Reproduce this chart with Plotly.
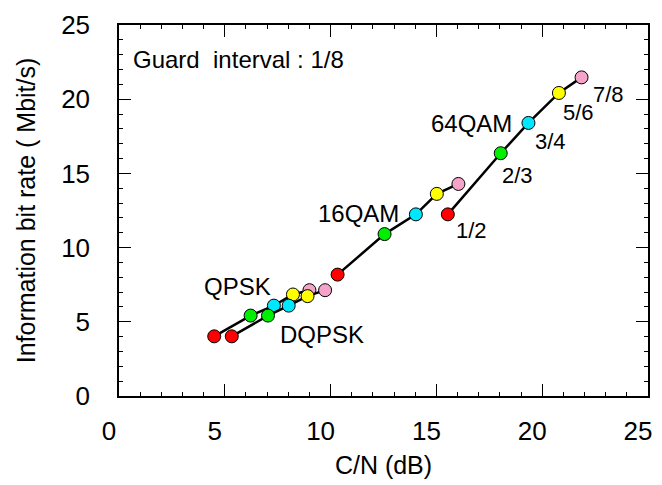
import plotly.graph_objects as go

# ---- data ----
code_rates = ["1/2", "2/3", "3/4", "5/6", "7/8"]
rate_colors = ["#ff0000", "#00ee00", "#00e8ff", "#ffff00", "#f5a3c8"]

qpsk_cn = [4.50, 6.22, 7.32, 8.22, 9.00]
qpsk_rate = [4.02, 5.42, 6.09, 6.84, 7.13]

dqpsk_cn = [5.33, 7.04, 8.02, 8.91, 9.74]
dqpsk_rate = [4.02, 5.42, 6.09, 6.73, 7.13]

qam16_cn = [10.33, 12.55, 14.03, 15.02, 16.04]
qam16_rate = [8.18, 10.91, 12.24, 13.62, 14.29]

qam64_cn = [15.54, 18.04, 19.35, 20.79, 21.86]
qam64_rate = [12.24, 16.36, 18.40, 20.42, 21.47]

x_ticks = [0, 5, 10, 15, 20, 25]
y_ticks = [0, 5, 10, 15, 20, 25]

FONT = "Liberation Sans, Arial, sans-serif"

fig = go.Figure()
series = [
    ("QPSK", qpsk_cn, qpsk_rate),
    ("DQPSK", dqpsk_cn, dqpsk_rate),
    ("16QAM", qam16_cn, qam16_rate),
    ("64QAM", qam64_cn, qam64_rate),
]
for name, xs, ys in series:
    fig.add_trace(go.Scatter(
        x=xs, y=ys, name=name, mode="lines+markers",
        line=dict(color="black", width=2.5),
        marker=dict(size=13, color=rate_colors,
                    line=dict(color="black", width=1)),
        text=code_rates, showlegend=False,
    ))

ann_font = dict(family=FONT, size=24, color="black")
frac_font = dict(family=FONT, size=22, color="black")
annotations = [
    dict(x=0.56, y=22.67, text="Guard  interval : 1/8", xanchor="left", font=ann_font),
    dict(x=5.58, y=7.4, text="QPSK", font=ann_font),
    dict(x=9.59, y=4.13, text="DQPSK", font=ann_font),
    dict(x=11.30, y=12.33, text="16QAM", font=ann_font),
    dict(x=16.65, y=18.35, text="64QAM", font=ann_font),
    dict(x=23.11, y=20.29, text=code_rates[4], font=frac_font),
    dict(x=21.70, y=19.09, text=code_rates[3], font=frac_font),
    dict(x=20.40, y=17.13, text=code_rates[2], font=frac_font),
    dict(x=18.81, y=14.87, text=code_rates[1], font=frac_font),
    dict(x=16.67, y=11.13, text=code_rates[0], font=frac_font),
]
for a in annotations:
    a.update(xref="x", yref="y", showarrow=False)

axis_common = dict(
    showline=True, linecolor="black", linewidth=1.5, mirror="allticks",
    ticks="inside", ticklen=12, tickwidth=1.2, tickcolor="black",
    showgrid=False, zeroline=False,
    tickfont=dict(family=FONT, size=26, color="black"),
    minor=dict(ticks="inside", ticklen=4, tickwidth=1, tickcolor="black", dtick=1, showgrid=False),
    range=[0, 25],
)

fig.update_layout(
    width=662, height=485,
    margin=dict(l=119, r=10, t=22, b=88),
    paper_bgcolor="white", plot_bgcolor="white",
    annotations=annotations,
    xaxis=dict(**axis_common, tickvals=x_ticks, ticklabelstandoff=11, ticklabelshift=-10,
               title=dict(text="C/N (dB)", font=dict(family=FONT, size=25, color="black"), standoff=12)),
    yaxis=dict(**axis_common, tickvals=y_ticks, ticklabelstandoff=22,
               title=dict(text="Information bit rate ( Mbit/s)", font=dict(family=FONT, size=25, color="black"), standoff=18)),
)

fig.write_html("out.html")
